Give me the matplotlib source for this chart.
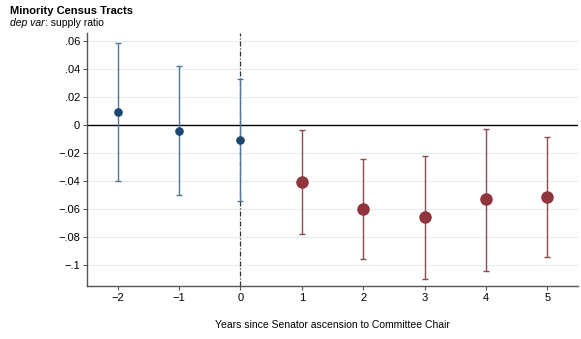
import matplotlib
matplotlib.use("Agg")
import matplotlib.pyplot as plt
from matplotlib.ticker import FuncFormatter

plt.rcParams['font.family'] = ['Liberation Sans', 'DejaVu Sans']

years_pre = [-2, -1, 0]
coef_pre = [0.0095, -0.0043, -0.011]
lo_pre = [-0.040, -0.050, -0.0545]
hi_pre = [0.0586, 0.042, 0.033]

years_post = [1, 2, 3, 4, 5]
coef_post = [-0.0407, -0.060, -0.066, -0.053, -0.0514]
lo_post = [-0.078, -0.0957, -0.110, -0.104, -0.094]
hi_post = [-0.0036, -0.024, -0.022, -0.0026, -0.0083]

yticks = [0.06, 0.04, 0.02, 0, -0.02, -0.04, -0.06, -0.08, -0.1]
xticks = [-2, -1, 0, 1, 2, 3, 4, 5]

blue = '#1a476f'
blue_ci = '#52769a'
red = '#90353b'
red_ci = '#8e4a50'

fig = plt.figure(figsize=(5.81, 3.39), dpi=100)
ax = fig.add_axes([0.1497, 0.156, 0.845, 0.747])

for yt in yticks:
    ax.axhline(yt, color='#e6edf0', lw=0.8, zorder=0)
ax.axhline(0, color='black', lw=1.0, zorder=1)
ax.axvline(0, color='#333333', lw=0.9, ls=(0, (4, 1.5, 1, 1.5)), zorder=1)

def fmt(v, pos):
    if abs(v) < 1e-12:
        return '0'
    s = ('%g' % abs(v))
    if s.startswith('0.'):
        s = s[1:]
    return ('\u2212' if v < 0 else '') + s

err_pre = [[c - l for c, l in zip(coef_pre, lo_pre)], [h - c for c, h in zip(coef_pre, hi_pre)]]
err_post = [[c - l for c, l in zip(coef_post, lo_post)], [h - c for c, h in zip(coef_post, hi_post)]]

ax.errorbar(years_pre, coef_pre, yerr=err_pre, fmt='none', ecolor=blue_ci, elinewidth=1.0, capsize=2.2, capthick=1.0, zorder=2)
ax.plot(years_pre, coef_pre, 'o', color=blue, ms=5.2, zorder=3)
ax.errorbar(years_post, coef_post, yerr=err_post, fmt='none', ecolor=red_ci, elinewidth=1.0, capsize=2.2, capthick=1.0, zorder=2)
ax.plot(years_post, coef_post, 'o', color=red, ms=8, zorder=3)

ax.set_xlim(-2.5, 5.5)
ax.set_ylim(-0.115, 0.0657)
ax.set_xticks(xticks)
ax.set_yticks(yticks)
ax.xaxis.set_major_formatter(FuncFormatter(fmt))
ax.yaxis.set_major_formatter(FuncFormatter(fmt))
ax.tick_params(axis='both', labelsize=8, color='#555555', length=3, width=0.8, direction='out', pad=2)

for s in ['top', 'right']:
    ax.spines[s].set_visible(False)
for s in ['left', 'bottom']:
    ax.spines[s].set_color('#555555')
    ax.spines[s].set_linewidth(1.0)

ax.set_xlabel('Years since Senator ascension to Committee Chair', fontsize=7.5, labelpad=12)

fig.text(0.017, 0.967, 'Minority Census Tracts', fontsize=8, fontweight='bold', va='center', ha='left')
t1 = fig.text(0.017, 0.932, 'dep var', fontsize=7.5, style='italic', va='center', ha='left')
fig.canvas.draw()
bb = t1.get_window_extent(renderer=fig.canvas.get_renderer())
x1 = bb.x1 / fig.bbox.width
fig.text(x1, 0.932, ': supply ratio', fontsize=7.5, va='center', ha='left')

fig.savefig('out.png', dpi=100)
